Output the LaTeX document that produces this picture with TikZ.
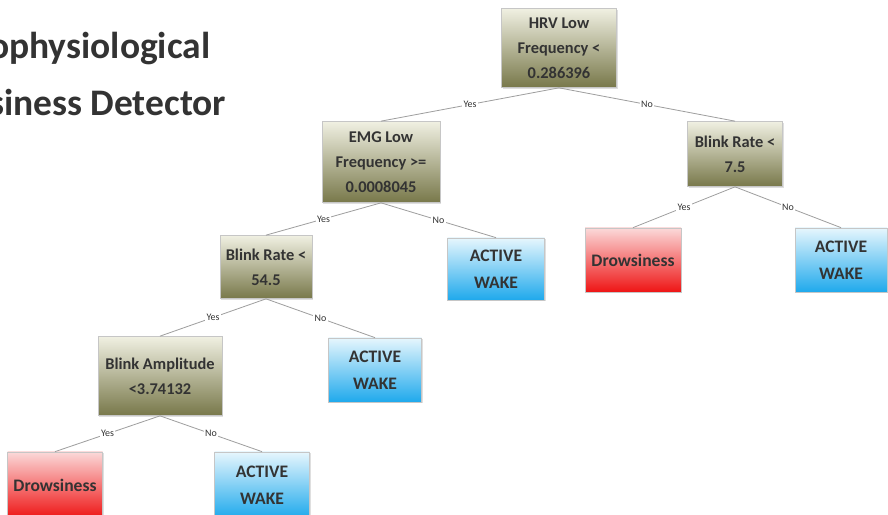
\documentclass[tikz,border=0pt]{standalone}
\usepackage{fontspec}
\setmainfont{Carlito}
\usepackage{xcolor}
\definecolor{olivetop}{HTML}{F0F0E2}
\definecolor{olivebot}{HTML}{78784A}
\definecolor{redtop}{HTML}{FBD9D9}
\definecolor{redbot}{HTML}{EE1515}
\definecolor{bluetop}{HTML}{E6F6FD}
\definecolor{bluebot}{HTML}{1FA9EC}
\definecolor{txtgray}{HTML}{333333}
\def\pxu{0.03cm}
\usetikzlibrary{shadows,positioning}

\begin{document}
\begin{tikzpicture}[x=0.03cm,y=-0.03cm]
		\tikzset{
			box/.style={draw=gray!45,line width=0.6pt,align=center,inner sep=0pt,
				font=\bfseries\fontsize{14}{21.5}\selectfont,text=txtgray,
				drop shadow={shadow xshift=1.2pt,shadow yshift=-1.2pt,opacity=0.25}},
			test/.style={box,top color=olivetop,bottom color=olivebot},
			sleepy/.style={box,top color=redtop,bottom color=redbot,font=\bfseries\fontsize{15}{23}\selectfont},
			awake/.style={box,top color=bluetop,bottom color=bluebot,font=\bfseries\fontsize{15}{23}\selectfont},
			edge/.style={draw=gray!75,line width=0.7pt},
			lbl/.style={fill=white,inner sep=1pt,font=\fontsize{8.5}{9}\selectfont,text=txtgray}
		}
		\useasboundingbox (0,0) rectangle (888,515);
		%% title
		\node[anchor=west,align=left,font=\bfseries\fontsize{32}{49}\selectfont,text=txtgray] (title) at (-15,74) {ophysiological\\siness Detector};
		%% tests
		\node[test,minimum width=115*\pxu,minimum height=79*\pxu] (hrv) at (559,48) {HRV Low\\Frequency <\\0.286396};
		\node[test,minimum width=118*\pxu,minimum height=81*\pxu] (emg) at (381,162) {EMG Low\\Frequency >=\\0.0008045};
		\node[test,minimum width=95*\pxu,minimum height=65*\pxu] (rateR) at (735,154) {Blink Rate <\\7.5};
		\node[test,minimum width=92*\pxu,minimum height=63*\pxu] (rateL) at (266,267) {Blink Rate <\\54.5};
		\node[test,minimum width=124*\pxu,minimum height=79*\pxu] (ampl) at (160,376) {Blink Amplitude\\<3.74132};
		%% leaves
		\node[sleepy,minimum width=96*\pxu,minimum height=64*\pxu] (drowsyR) at (633,260) {Drowsiness};
		\node[awake,minimum width=92*\pxu,minimum height=64*\pxu] (wakeR) at (841,260) {ACTIVE\\WAKE};
		\node[awake,minimum width=97*\pxu,minimum height=62*\pxu] (wakeA) at (496,269) {ACTIVE\\WAKE};
		\node[awake,minimum width=93*\pxu,minimum height=64*\pxu] (wakeB) at (375,370) {ACTIVE\\WAKE};
		\node[sleepy,minimum width=95*\pxu,minimum height=66*\pxu] (drowsyL) at (55,485) {Drowsiness};
		\node[awake,minimum width=95*\pxu,minimum height=66*\pxu] (wakeC) at (262,485) {ACTIVE\\WAKE};
		%% connectors
		\path[edge] (hrv.south) -- node[lbl]{Yes} (emg.north);
		\path[edge] (hrv.south) -- node[lbl]{No} (rateR.north);
		\path[edge] (emg.south) -- node[lbl]{Yes} (rateL.north);
		\path[edge] (emg.south) -- node[lbl]{No} (wakeA.north);
		\path[edge] (rateR.south) -- node[lbl]{Yes} (drowsyR.north);
		\path[edge] (rateR.south) -- node[lbl]{No} (wakeR.north);
		\path[edge] (rateL.south) -- node[lbl]{Yes} (ampl.north);
		\path[edge] (rateL.south) -- node[lbl]{No} (wakeB.north);
		\path[edge] (ampl.south) -- node[lbl]{Yes} (drowsyL.north);
		\path[edge] (ampl.south) -- node[lbl]{No} (wakeC.north);
	\end{tikzpicture}
\end{document}
